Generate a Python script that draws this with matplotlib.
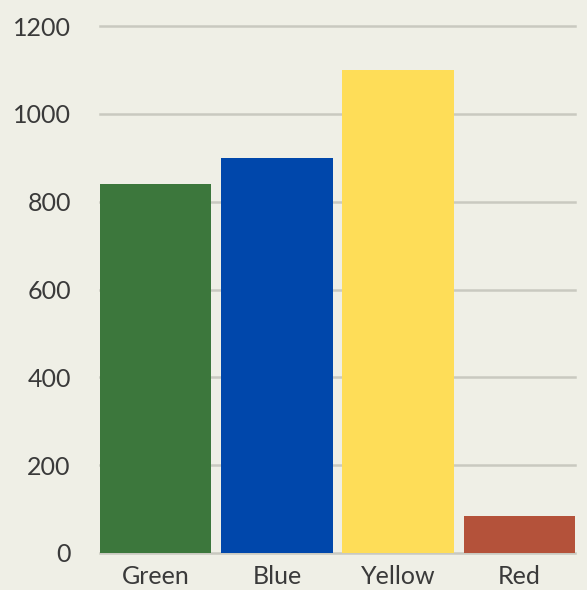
import matplotlib.pyplot as plt

colors_names = ["Green", "Blue", "Yellow", "Red"]
votes = [840, 900, 1100, 85]
bar_colors = ["#3c773c", "#0047ab", "#fedd58", "#b4523a"]
y_ticks = [0, 200, 400, 600, 800, 1000, 1200]

plt.rcParams['font.family'] = ['Lato', 'DejaVu Sans']

fig = plt.figure(figsize=(5.87, 5.90), dpi=100)
fig.patch.set_facecolor('#efefe6')
ax = fig.add_axes([100 / 587, 1 - 553 / 590, 475 / 587, 527 / 590])
ax.set_facecolor('#efefe6')

x = range(len(colors_names))
ax.bar(x, votes, width=0.92, color=bar_colors, zorder=3)

ax.set_xlim(-0.46, 3.46)
ax.set_ylim(0, 1200)
ax.set_yticks(y_ticks)
ax.set_xticks(list(x))
ax.set_xticklabels(colors_names)

# light horizontal grid behind the bars
for t in y_ticks:
    ax.axhline(t, color='#c9c9c0', linewidth=1.8, zorder=1, clip_on=False)

for s in ax.spines.values():
    s.set_visible(False)
ax.tick_params(axis='both', length=0, labelsize=18, colors='#3a3a3a')
ax.tick_params(axis='y', pad=21)
ax.tick_params(axis='x', pad=9)

fig.savefig('out.png', dpi=100, facecolor=fig.get_facecolor())
